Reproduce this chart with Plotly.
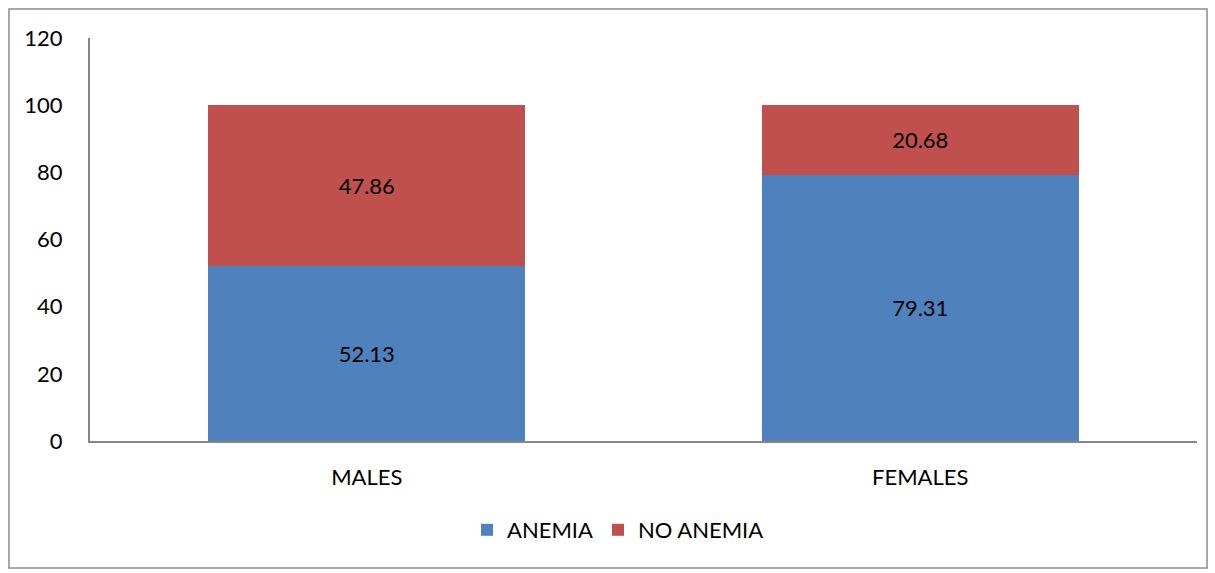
import plotly.graph_objects as go

categories = ["MALES", "FEMALES"]
anemia = [52.13, 79.31]
no_anemia = [47.86, 20.68]
y_ticks = [0, 20, 40, 60, 80, 100, 120]

W, H = 1215, 573
L, R, T, B = 90, 18, 38, 132
pw, ph = W - L - R, H - T - B

FONT = "Lato"
FS = 22
fig = go.Figure()
fig.add_trace(go.Bar(
    name="ANEMIA", x=categories, y=anemia, marker_color="#4F81BD",
    marker_line_width=0,
    text=[f"{v:.2f}" for v in anemia], textposition="inside",
    insidetextanchor="middle", textfont=dict(color="black", size=FS, family=FONT),
))
fig.add_trace(go.Bar(
    name="NO ANEMIA", x=categories, y=no_anemia, marker_color="#C0504D",
    marker_line_width=0,
    text=[f"{v:.2f}" for v in no_anemia], textposition="inside",
    insidetextanchor="middle", textfont=dict(color="black", size=FS, family=FONT),
))

def px_x(p):
    return (p - L) / pw

def px_y(p):
    return (H - B - p) / ph

fig.add_shape(type="rect", xref="paper", yref="paper",
              x0=px_x(9), x1=px_x(1207), y0=px_y(568), y1=px_y(9),
              line=dict(color="#8c8c8c", width=1.5), layer="below")

fig.update_layout(
    width=W, height=H,
    margin=dict(l=L, r=R, t=T, b=B),
    barmode="stack", bargap=0.427,
    plot_bgcolor="white", paper_bgcolor="white",
    font=dict(family=FONT, size=FS, color="black"),
    uniformtext=dict(mode=False),
    showlegend=True,
    legend=dict(orientation="h", x=px_x(618), xanchor="center", y=px_y(530), yanchor="middle",
                font=dict(size=FS, family=FONT), traceorder="normal",
                itemwidth=30, itemsizing="constant"),
    xaxis=dict(showline=True, linecolor="#868686", linewidth=2, showgrid=False,
               ticks="", ticklabelstandoff=16, tickfont=dict(size=FS)),
    yaxis=dict(range=[0, 120], tickvals=y_ticks, showline=True, linecolor="#868686",
               linewidth=2, showgrid=False, ticks="", ticklabelstandoff=21,
               tickfont=dict(size=FS), zeroline=False),
)

fig.write_html("out.html")
